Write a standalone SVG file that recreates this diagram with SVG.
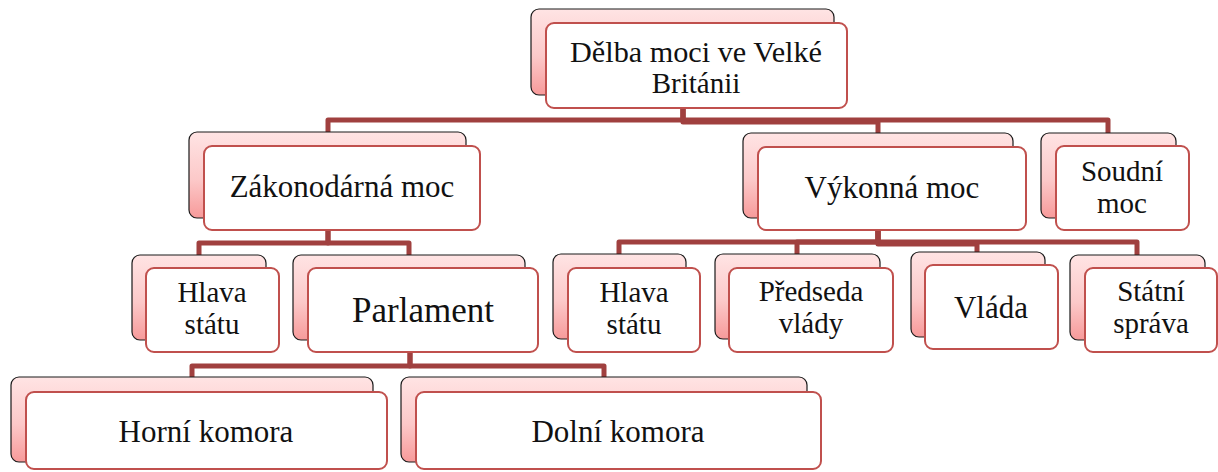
<svg xmlns="http://www.w3.org/2000/svg" width="1218" height="472" viewBox="0 0 1218 472">
<defs>
<linearGradient id="pink" x1="0" y1="0" x2="0" y2="1">
<stop offset="0" stop-color="#ffe4e4"/>
<stop offset="0.55" stop-color="#fcc9c9"/>
<stop offset="1" stop-color="#f79a9a"/>
</linearGradient>
<style>
.back{fill:url(#pink);stroke:#1a1a1a;stroke-width:1.2}
.front{fill:#ffffff;stroke:#c0504d;stroke-width:2}
.conn{fill:none;stroke:#a0403f;stroke-width:5;stroke-linejoin:round}
.t{font-family:'Liberation Serif','Times New Roman',serif;font-size:31px;fill:#111;text-anchor:middle}
.t2{font-family:'Liberation Serif','Times New Roman',serif;font-size:29px;fill:#111;text-anchor:middle}
.big{font-family:'Liberation Serif','Times New Roman',serif;font-size:35px;fill:#111;text-anchor:middle}
</style>
</defs>
<rect width="1218" height="472" fill="#ffffff"/>
<g id="connectors">
<path class="conn" d="M683,108 V120 H328 V132"/>
<path class="conn" d="M683,108 V122 H878 V133"/>
<path class="conn" d="M683,108 V120 H1108 V133"/>
<path class="conn" d="M328,230 V243 H199 V255"/>
<path class="conn" d="M328,230 V243 H409 V255"/>
<path class="conn" d="M878,230 V242 H619 V254"/>
<path class="conn" d="M878,230 V242 H797 V254"/>
<path class="conn" d="M878,230 V244 H977 V252"/>
<path class="conn" d="M878,230 V242 H1137 V255"/>
<path class="conn" d="M410,352 V366 H192 V377"/>
<path class="conn" d="M410,352 V366 H604 V377"/>
</g>
<g id="n-top">
<rect class="back" x="531" y="9" width="303" height="86" rx="8"/>
<rect class="front" x="546" y="23" width="301" height="85" rx="8"/>
<text class="t2" x="696" y="62" textLength="252" lengthAdjust="spacingAndGlyphs">Dělba moci ve Velké</text>
<text class="t2" x="696" y="93">Británii</text>
</g>
<g id="n-zakonodarna">
<rect class="back" x="189" y="132" width="277" height="86" rx="8"/>
<rect class="front" x="204" y="146" width="276" height="84" rx="8"/>
<text class="t" x="342" y="197">Zákonodárná moc</text>
</g>
<g id="n-vykonna">
<rect class="back" x="743" y="133" width="270" height="85" rx="8"/>
<rect class="front" x="758" y="147" width="268" height="83" rx="8"/>
<text class="t" x="892" y="198">Výkonná moc</text>
</g>
<g id="n-soudni">
<rect class="back" x="1041" y="133" width="135" height="85" rx="8"/>
<rect class="front" x="1056" y="146" width="133" height="84" rx="8"/>
<text class="t2" x="1122" y="181">Soudní</text>
<text class="t2" x="1122" y="213">moc</text>
</g>
<g id="n-hlava1">
<rect class="back" x="132" y="255" width="134" height="85" rx="8"/>
<rect class="front" x="146" y="268" width="133" height="84" rx="8"/>
<text class="t2" x="212" y="302">Hlava</text>
<text class="t2" x="212" y="334">státu</text>
</g>
<g id="n-parlament">
<rect class="back" x="293" y="255" width="232" height="85" rx="8"/>
<rect class="front" x="308" y="268" width="230" height="84" rx="8"/>
<text class="big" x="423" y="322">Parlament</text>
</g>
<g id="n-hlava2">
<rect class="back" x="553" y="254" width="133" height="85" rx="8"/>
<rect class="front" x="568" y="268" width="132" height="84" rx="8"/>
<text class="t2" x="634" y="302">Hlava</text>
<text class="t2" x="634" y="334">státu</text>
</g>
<g id="n-predseda">
<rect class="back" x="715" y="254" width="165" height="85" rx="8"/>
<rect class="front" x="729" y="268" width="164" height="84" rx="8"/>
<text class="t2" x="811" y="301">Předseda</text>
<text class="t2" x="811" y="333">vlády</text>
</g>
<g id="n-vlada">
<rect class="back" x="911" y="252" width="134" height="85" rx="8"/>
<rect class="front" x="925" y="265" width="133" height="84" rx="8"/>
<text class="t" x="991" y="318">Vláda</text>
</g>
<g id="n-statni">
<rect class="back" x="1070" y="255" width="135" height="85" rx="8"/>
<rect class="front" x="1085" y="268" width="132" height="84" rx="8"/>
<text class="t2" x="1151" y="301">Státní</text>
<text class="t2" x="1151" y="333">správa</text>
</g>
<g id="n-horni">
<rect class="back" x="11" y="377" width="362" height="85" rx="8"/>
<rect class="front" x="26" y="392" width="361" height="77" rx="8"/>
<text class="t" x="206" y="442">Horní komora</text>
</g>
<g id="n-dolni">
<rect class="back" x="401" y="377" width="406" height="85" rx="8"/>
<rect class="front" x="416" y="392" width="405" height="77" rx="8"/>
<text class="t" x="618" y="442">Dolní komora</text>
</g>
</svg>
